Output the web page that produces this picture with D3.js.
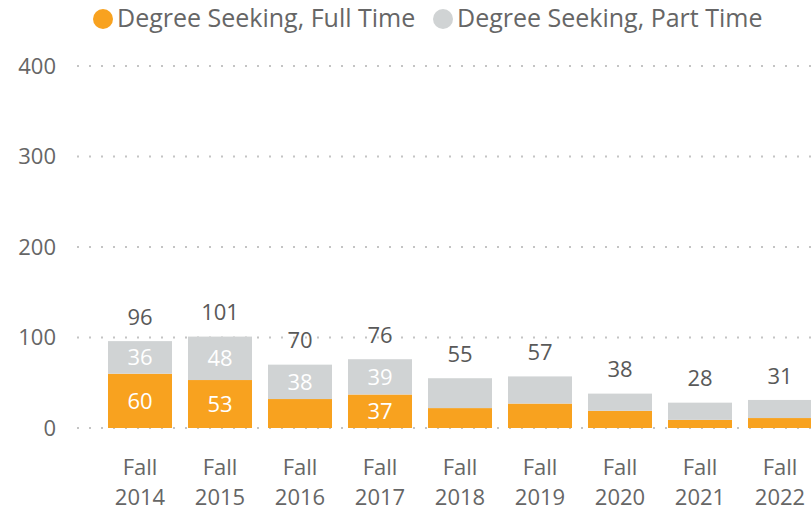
<!DOCTYPE html>
<html>
<head>
<meta charset="utf-8">
<script src="https://cdn.jsdelivr.net/npm/d3@7"></script>
<style>
  body { margin: 0; background: #fff; }
  text { font-family: "Open Sans", "Noto Sans", sans-serif; }
</style>
</head>
<body>
<div id="chart"></div>
<script>
const terms = ["Fall 2014", "Fall 2015", "Fall 2016", "Fall 2017", "Fall 2018", "Fall 2019", "Fall 2020", "Fall 2021", "Fall 2022"];
const fullTime = [60, 53, 32, 37, 22, 27, 19, 9, 11];
const partTime = [36, 48, 38, 39, 33, 30, 19, 19, 20];
const totals = [96, 101, 70, 76, 55, 57, 38, 28, 31];
const yTicks = [0, 100, 200, 300, 400];
// segment labels only appear on these bars in the original
const fullLabelTerms = ["Fall 2014", "Fall 2015", "Fall 2017"];
const partLabelTerms = ["Fall 2014", "Fall 2015", "Fall 2016", "Fall 2017"];

const seriesNames = ["Degree Seeking, Full Time", "Degree Seeking, Part Time"];
const colors = ["#F8A21F", "#D0D3D4"];

const width = 811, height = 512;

const svg = d3.select("#chart").append("svg")
  .attr("width", width)
  .attr("height", height);

const x = d3.scaleBand().domain(terms).range([100, 820]).paddingInner(0.2).paddingOuter(0.1);
const y = d3.scaleLinear().domain([0, 400]).range([428, 66]);

// gridlines
svg.append("g")
  .selectAll("line")
  .data(yTicks)
  .join("line")
  .attr("x1", 77)
  .attr("x2", width)
  .attr("y1", d => y(d))
  .attr("y2", d => y(d))
  .attr("stroke", "#c4c4c4")
  .attr("stroke-width", 2)
  .attr("stroke-dasharray", "2,10");

// y axis labels
const yAxis = svg.append("g")
  .attr("transform", "translate(56,0)")
  .call(d3.axisLeft(y).tickValues(yTicks).tickSize(0).tickPadding(0));
yAxis.select(".domain").remove();
yAxis.selectAll("text")
  .style("font-family", "'Open Sans', sans-serif")
  .style("font-size", "22px")
  .attr("fill", "#666");

// x axis labels (two lines)
const xAxis = svg.append("g")
  .attr("transform", "translate(0,428)")
  .call(d3.axisBottom(x).tickSize(0));
xAxis.select(".domain").remove();
xAxis.selectAll("text").remove();
xAxis.selectAll(".tick").append("text")
  .attr("text-anchor", "middle")
  .attr("fill", "#666")
  .style("font-size", "22px")
  .selectAll("tspan")
  .data(d => d.split(" "))
  .join("tspan")
  .attr("x", 0)
  .attr("y", (d, i) => 47 + i * 30)
  .text(d => d);

const rows = terms.map((t, i) => ({ term: t, full: fullTime[i], part: partTime[i], total: totals[i] }));
const stack = d3.stack().keys(["full", "part"]);
const layers = stack(rows);

const layerG = svg.append("g")
  .selectAll("g")
  .data(layers)
  .join("g")
  .attr("fill", (d, i) => colors[i]);

layerG.selectAll("rect")
  .data(d => d)
  .join("rect")
  .attr("x", d => x(d.data.term))
  .attr("width", x.bandwidth())
  .attr("y", d => y(d[1]))
  .attr("height", d => y(d[0]) - y(d[1]));

// segment labels
layerG.each(function(layer) {
  const shown = layer.key === "full" ? fullLabelTerms : partLabelTerms;
  d3.select(this).selectAll("text")
    .data(layer.filter(d => shown.includes(d.data.term)))
    .join("text")
    .attr("x", d => x(d.data.term) + x.bandwidth() / 2)
    .attr("y", d => (y(d[0]) + y(d[1])) / 2)
    .attr("dy", "0.35em")
    .attr("text-anchor", "middle")
    .attr("fill", "#fff")
    .style("font-size", "22px")
    .text(d => d.data[layer.key]);
});

// totals
svg.append("g")
  .selectAll("text")
  .data(rows)
  .join("text")
  .attr("x", d => x(d.term) + x.bandwidth() / 2)
  .attr("y", d => y(d.total) - 24)
  .attr("dy", "0.35em")
  .attr("text-anchor", "middle")
  .attr("fill", "#595959")
  .style("font-size", "22px")
  .text(d => d.total);

// legend
const legend = svg.append("g");
const legendX = [103, 443];
seriesNames.forEach((name, i) => {
  legend.append("circle")
    .attr("cx", legendX[i])
    .attr("cy", 19)
    .attr("r", 10)
    .attr("fill", colors[i]);
  legend.append("text")
    .attr("x", legendX[i] + 14)
    .attr("y", 27)
    .attr("fill", "#666")
    .style("font-size", "25px")
    .text(name);
});
</script>
</body>
</html>
